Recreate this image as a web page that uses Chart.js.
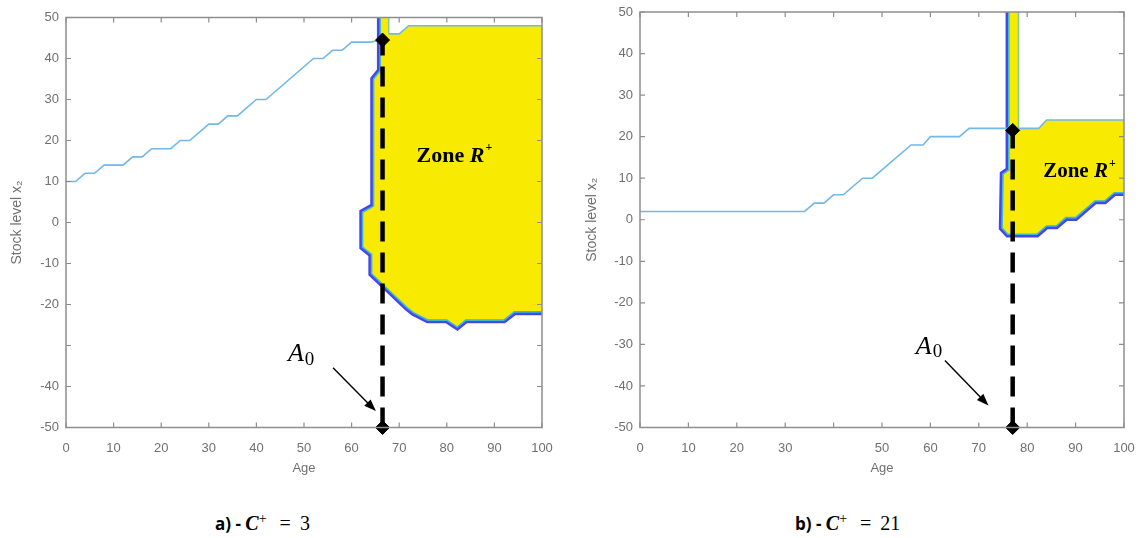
<!DOCTYPE html>
<html>
<head>
<meta charset="utf-8">
<script src="https://cdn.jsdelivr.net/npm/chart.js@4"></script>
<style>
  body { margin: 0; background: #fff; width: 1142px; height: 538px; position: relative; overflow: hidden; }
  canvas { position: absolute; top: 0; }
  #chartA { left: 0; }
  #chartB { left: 570px; }
  .cap { position: absolute; top: 511px; font-size: 17px; color: #000; white-space: nowrap; }
  .cap b { font-family: "Open Sans", "Liberation Sans", sans-serif; }
  .cap .m { font-family: "Liberation Serif", serif; font-size: 20px; }
  .cap .eq { margin-left: 13px; }
  .cap .v { margin-left: 9px; }
  .cap i { font-family: "Liberation Serif", serif; font-weight: bold; font-size: 20px; }
  .cap sup { font-family: "Liberation Serif", serif; font-size: 14px; }
</style>
</head>
<body>
<canvas id="chartA" width="560" height="480"></canvas>
<canvas id="chartB" width="572" height="480"></canvas>
<div class="cap" style="left:215px"><b>a) - </b><i>C</i><sup>+</sup><span class="m eq">=</span><span class="m v">3</span></div>
<div class="cap" style="left:795px"><b>b) - </b><i>C</i><sup>+</sup><span class="m eq">=</span><span class="m v">21</span></div>
<script>
// axis ticks
var ageTicks = [0, 10, 20, 30, 40, 50, 60, 70, 80, 90, 100];
var ageLabelsA = ["0", "10", "20", "30", "40", "50", "60", "70", "80", "90", "100"];
var ageLabelsB = ["0", "10", "20", "30", "", "50", "60", "70", "80", "90", "100"];
var stockTicks = [-50, -40, -30, -20, -10, 0, 10, 20, 30, 40, 50];
var stockLabelsA = ["-50", "-40", "", "-20", "-10", "0", "10", "20", "30", "40", "50"];
var stockLabelsB = ["-50", "-40", "-30", "-20", "-10", "0", "10", "20", "30", "40", "50"];

// panel a) C+ = 3
var pathAgeA = [0, 2, 4, 6, 8, 12, 14, 16, 18, 22, 24, 26, 30, 32, 34, 36, 40, 42, 52, 54, 56, 58, 60, 64, 66];
var pathStockA = [10, 10, 12, 12, 14, 14, 16, 16, 18, 18, 20, 20, 24, 24, 26, 26, 30, 30, 40, 40, 42, 42, 44, 44, 44.5];
var edgeAgeA = [66, 66, 64.6, 64.6, 62.3, 62.3, 64.2, 64.2, 68.7, 71.7, 73, 76, 80, 82.2, 84, 92, 94.2, 100];
var edgeStockA = [50, 37, 35, 4, 2.5, -6, -7.8, -12.5, -17.5, -20.8, -22, -23.8, -23.8, -25.5, -23.8, -23.8, -21.8, -21.8];
var topAgeA = [67.8, 67.8, 70, 72, 100];
var topStockA = [50, 46, 46, 48, 48];
var a0A = 66.5, hitA = 44.5;

// panel b) C+ = 21
var pathAgeB = [0, 34, 36, 38, 40, 42, 46, 48, 56, 58.5, 60, 66, 68, 76.5];
var pathStockB = [2, 2, 4, 4, 6, 6, 10, 10, 18, 18, 20, 20, 22, 22];
var edgeAgeB = [76.2, 76.2, 75, 74.8, 76, 82, 84, 86, 88, 90, 92, 94, 96, 98, 100];
var edgeStockB = [50, 12, 11, -2, -3.5, -3.5, -1.5, -1.5, 0.5, 0.5, 2.5, 4.5, 4.5, 6.5, 6.5];
var topAgeB = [78.2, 78.2, 82.4, 84, 100];
var topStockB = [50, 22, 22, 24, 24];
var a0B = 77, hitB = 21.5;

function pts(xs, ys) { return xs.map(function (v, i) { return { x: v, y: ys[i] }; }); }

var boxPlugin = {
  id: 'box',
  afterDatasetsDraw: function (chart) {
    var ctx = chart.ctx, a = chart.chartArea, x = chart.scales.x, y = chart.scales.y;
    ctx.save();
    ctx.strokeStyle = '#8e8e8e';
    ctx.lineWidth = 1.5;
    ctx.strokeRect(a.left, a.top, a.right - a.left, a.bottom - a.top);
    ctx.lineWidth = 1.2;
    ctx.beginPath();
    x.ticks.forEach(function (t) {
      var px = x.getPixelForValue(t.value);
      ctx.moveTo(px, a.bottom); ctx.lineTo(px, a.bottom - 5);
      ctx.moveTo(px, a.top); ctx.lineTo(px, a.top + 5);
    });
    y.ticks.forEach(function (t) {
      var py = y.getPixelForValue(t.value);
      ctx.moveTo(a.left, py); ctx.lineTo(a.left + 5, py);
      ctx.moveTo(a.right, py); ctx.lineTo(a.right - 5, py);
    });
    ctx.stroke();
    ctx.restore();
  }
};

var notePlugin = {
  id: 'notes',
  afterDraw: function (chart, args, o) {
    var ctx = chart.ctx, x = chart.scales.x, y = chart.scales.y;
    ctx.save();
    ctx.fillStyle = '#000';
    ctx.textBaseline = 'middle';
    // Zone R+
    var zx = x.getPixelForValue(o.zone[0]), zy = y.getPixelForValue(o.zone[1]);
    var small = Math.round(o.zoneSize * 0.55);
    ctx.font = 'bold ' + o.zoneSize + 'px "Liberation Serif"';
    var w1 = ctx.measureText('Zone ').width;
    ctx.font = 'bold italic ' + o.zoneSize + 'px "Liberation Serif"';
    var w2 = ctx.measureText('R').width;
    ctx.font = 'bold ' + small + 'px "Liberation Serif"';
    var w3 = ctx.measureText('+').width;
    var sx = zx - (w1 + w2 + w3) / 2;
    ctx.textAlign = 'left';
    ctx.font = 'bold ' + o.zoneSize + 'px "Liberation Serif"';
    ctx.fillText('Zone ', sx, zy);
    ctx.font = 'bold italic ' + o.zoneSize + 'px "Liberation Serif"';
    ctx.fillText('R', sx + w1, zy);
    ctx.font = 'bold ' + small + 'px "Liberation Serif"';
    ctx.fillText('+', sx + w1 + w2 + 1, zy - 8);
    // A0
    var ax = x.getPixelForValue(o.label[0]), ay = y.getPixelForValue(o.label[1]);
    ctx.font = 'italic 26px "Liberation Serif"';
    var wa = ctx.measureText('A').width;
    ctx.font = '19px "Liberation Serif"';
    var wz = ctx.measureText('0').width;
    var bx = ax - (wa + wz) / 2;
    ctx.font = 'italic 26px "Liberation Serif"';
    ctx.fillText('A', bx, ay);
    ctx.font = '19px "Liberation Serif"';
    ctx.fillText('0', bx + wa + 1, ay + 5);
    // arrow
    var x1 = x.getPixelForValue(o.arrow[0]), y1 = y.getPixelForValue(o.arrow[1]);
    var x2 = x.getPixelForValue(o.arrow[2]), y2 = y.getPixelForValue(o.arrow[3]);
    var ang = Math.atan2(y2 - y1, x2 - x1);
    ctx.strokeStyle = '#000';
    ctx.lineWidth = 1.4;
    ctx.beginPath();
    ctx.moveTo(x1, y1);
    ctx.lineTo(x2 - 8 * Math.cos(ang), y2 - 8 * Math.sin(ang));
    ctx.stroke();
    ctx.beginPath();
    ctx.moveTo(x2, y2);
    ctx.lineTo(x2 - 12 * Math.cos(ang) + 4.5 * Math.sin(ang), y2 - 12 * Math.sin(ang) - 4.5 * Math.cos(ang));
    ctx.lineTo(x2 - 12 * Math.cos(ang) - 4.5 * Math.sin(ang), y2 - 12 * Math.sin(ang) + 4.5 * Math.cos(ang));
    ctx.closePath();
    ctx.fill();
    ctx.restore();
  }
};

function makeChart(id, cfg) {
  var fill = pts(cfg.edgeX, cfg.edgeY).concat(pts(cfg.topX, cfg.topY).reverse());
  return new Chart(document.getElementById(id), {
    type: 'scatter',
    data: {
      datasets: [
        // higher order is drawn first (underneath)
        { order: 9, data: pts(cfg.edgeX, cfg.edgeY), showLine: true, borderColor: '#4747e6', borderWidth: 6.5, pointRadius: 0 },
        { order: 8, data: fill, showLine: true, fill: 'shape', backgroundColor: '#f8ea00', borderWidth: 0, pointRadius: 0 },
        { order: 7, data: pts(cfg.edgeX, cfg.edgeY), showLine: true, borderColor: '#3fb7d6', borderWidth: 1.6, pointRadius: 0 },
        { order: 6, data: pts(cfg.topX, cfg.topY).slice(0, 2), showLine: true, borderColor: '#7fd08a', borderWidth: 1.5, pointRadius: 0 },
        { order: 5, data: pts(cfg.topX, cfg.topY).slice(1), showLine: true, borderColor: '#72b8e8', borderWidth: 1.6, pointRadius: 0 },
        { order: 4, data: pts(cfg.pathX, cfg.pathY), showLine: true, borderColor: '#72b8e8', borderWidth: 1.6, pointRadius: 0 },
        { order: 3, data: [{ x: cfg.a0, y: -50 }, { x: cfg.a0, y: cfg.hit }], showLine: true, borderColor: '#000', borderWidth: 4.5, borderDash: [20, 11], pointRadius: 0 },
        { order: 2, data: [{ x: cfg.a0, y: -50 }, { x: cfg.a0, y: cfg.hit }], showLine: false, pointStyle: 'rectRot', pointRadius: 7, backgroundColor: '#000', borderColor: '#000', clip: false }
      ]
    },
    options: {
      responsive: false,
      animation: false,
      layout: { padding: { left: cfg.padLeft, right: 18, top: cfg.padTop, bottom: 3.5 } },
      plugins: {
        legend: { display: false },
        tooltip: { enabled: false },
        notes: cfg.notes
      },
      scales: {
        x: {
          type: 'linear', min: 0, max: 100,
          afterBuildTicks: function (s) { s.ticks = ageTicks.map(function (v) { return { value: v }; }); },
          afterFit: function (s) { s.height = 49; s.paddingLeft = 0; s.paddingRight = 0; },
          grid: { display: false, drawTicks: false },
          border: { display: false },
          ticks: {
            padding: 13, maxRotation: 0, autoSkip: false, color: '#707070',
            font: { family: 'Liberation Sans', size: 13 },
            callback: function (v, i) { return cfg.xLabels[i]; }
          },
          title: { display: true, text: 'Age', color: '#707070', padding: 0, font: { family: 'Liberation Sans', size: 13 } }
        },
        y: {
          type: 'linear', min: -50, max: 50,
          afterBuildTicks: function (s) { s.ticks = stockTicks.map(function (v) { return { value: v }; }); },
          afterFit: function (s) { s.width = cfg.yWidth; s.paddingTop = 0; s.paddingBottom = 0; },
          grid: { display: false, drawTicks: false },
          border: { display: false },
          ticks: {
            padding: 7, color: '#707070',
            font: { family: 'Liberation Sans', size: 13 },
            callback: function (v, i) { return cfg.yLabels[i]; }
          },
          title: { display: true, text: 'Stock level x\u2082', color: '#707070', padding: 0, font: { family: 'Liberation Sans', size: 14 } }
        }
      }
    },
    plugins: [boxPlugin, notePlugin]
  });
}

makeChart('chartA', {
  pathX: pathAgeA, pathY: pathStockA, edgeX: edgeAgeA, edgeY: edgeStockA,
  topX: topAgeA, topY: topStockA, a0: a0A, hit: hitA,
  xLabels: ageLabelsA, yLabels: stockLabelsA,
  padLeft: 9, yWidth: 57, padTop: 17.5,
  notes: { zone: [81.5, 16.2], zoneSize: 22, label: [49.3, -32.2], arrow: [56.1, -35.4, 65.1, -46] }
});

makeChart('chartB', {
  pathX: pathAgeB, pathY: pathStockB, edgeX: edgeAgeB, edgeY: edgeStockB,
  topX: topAgeB, topY: topStockB, a0: a0B, hit: hitB,
  xLabels: ageLabelsB, yLabels: stockLabelsB,
  padLeft: 14, yWidth: 56, padTop: 12,
  notes: { zone: [90.7, 11.5], zoneSize: 21, label: [59.6, -30.7], arrow: [63, -33.9, 72, -44.7] }
});
</script>
</body>
</html>
